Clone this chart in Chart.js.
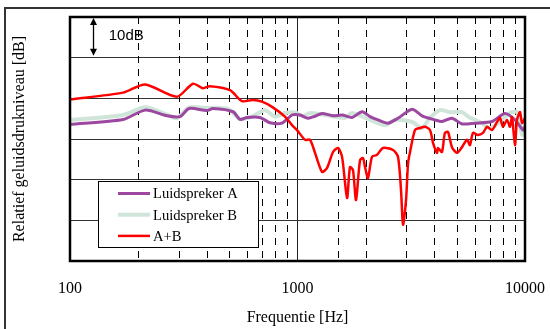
<!DOCTYPE html>
<html>
<head>
<meta charset="utf-8">
<script src="https://cdn.jsdelivr.net/npm/chart.js@4.4.0/dist/chart.umd.min.js"></script>
<style>
  html, body { margin: 0; padding: 0; background: #fff; }
  canvas { display: block; }
</style>
</head>
<body>
<canvas id="response" width="550" height="329"></canvas>
<script>
// Frequency response data, dB relative
const freqA = [100, 171, 214, 267, 304, 334, 400, 425, 521, 559, 600, 684, 757, 855, 946, 1026, 1112, 1194, 1282, 1433, 1570, 1736, 1922, 2083, 2258, 2500, 2766, 3188, 3526, 4018, 4315, 4775, 5285, 6026, 7161, 8166, 9036, 9804, 10000];
const levelA = [33.6, 34.8, 37.1, 35.7, 35.5, 37.5, 37.0, 37.5, 36.7, 34.8, 35.3, 35.3, 34.0, 33.9, 35.9, 35.9, 35.1, 35.6, 36.3, 35.7, 35.9, 35.3, 36.7, 35.5, 34.7, 33.9, 35.1, 37.3, 35.7, 34.7, 34.3, 35.1, 33.7, 33.9, 34.3, 36.3, 34.7, 32.2, 33.0];

const freqB = [100, 171, 214, 267, 295, 334, 392, 495, 559, 631, 720, 796, 881, 975, 1057, 1135, 1321, 1617, 1736, 2083, 2425, 2685, 3188, 3526, 3822, 4227, 4677, 5285, 5730, 6339, 7014, 7764, 8590, 9225, 9707, 10000];
const levelB = [34.7, 35.9, 37.8, 36.0, 35.1, 37.8, 37.6, 37.4, 34.9, 35.5, 37.1, 35.5, 36.4, 36.5, 35.6, 36.4, 35.9, 35.2, 36.4, 34.7, 33.4, 34.7, 34.2, 32.7, 35.2, 37.1, 36.6, 36.6, 35.2, 34.2, 32.7, 34.2, 36.4, 36.6, 31.0, 33.4];

const freqAB = [100, 171, 214, 295, 347, 384, 412, 505, 570, 637, 698, 773, 881, 946, 995, 1079, 1135, 1194, 1282, 1349, 1433, 1507, 1570, 1651, 1701, 1753, 1808, 1883, 1941, 1981, 2041, 2125, 2235, 2376, 2630, 2766, 2851, 2910, 3000, 3062, 3124, 3285, 3455, 3634, 3822, 3945, 4102, 4147, 4315, 4446, 4590, 4775, 5024, 5285, 5561, 5730, 5906, 6209, 6533, 6808, 7161, 7535, 7764, 8000, 8334, 8590, 8769, 9036, 9225, 9509, 9707, 10000];
const levelAB = [39.7, 41.4, 43.4, 40.4, 43.6, 42.5, 43.0, 42.0, 39.3, 39.6, 39.2, 37.9, 35.5, 33.4, 32.2, 29.8, 29.8, 26.6, 21.9, 22.9, 26.8, 27.8, 25.6, 15.5, 23.1, 22.4, 15.0, 24.8, 25.3, 23.1, 20.4, 25.6, 26.1, 27.8, 27.3, 25.6, 17.5, 8.9, 15.0, 24.1, 26.8, 32.2, 32.7, 33.0, 32.2, 29.0, 26.6, 27.8, 26.8, 31.5, 31.7, 28.0, 26.6, 28.0, 29.8, 28.5, 31.5, 31.0, 31.5, 33.0, 32.2, 34.2, 35.2, 33.0, 34.7, 33.0, 35.4, 28.5, 34.7, 36.6, 33.9, 35.2];

const seriesNames = ['Luidspreker A', 'Luidspreker B', 'A+B'];
const xLabels = [100, 1000, 10000];

const toPoints = (xs, ys) => xs.map((x, i) => ({ x: x, y: ys[i] }));

const SERIF = '"Liberation Serif", "Times New Roman", serif';

// outer frame, dashed minor gridlines, plot border, 10dB marker, legend
const decorations = {
    id: 'decorations',
    beforeDraw(chart) {
        const c = chart.ctx;
        c.save();
        c.strokeStyle = '#333';
        c.lineWidth = 2;
        c.strokeRect(5, 8, 600, 400);
        c.restore();
    },
    beforeDatasetsDraw(chart) {
        const c = chart.ctx;
        const area = chart.chartArea;
        const xs = chart.scales.x;
        c.save();
        c.strokeStyle = '#000';
        c.lineWidth = 1;
        c.setLineDash([7, 6]);
        xs.ticks.forEach(t => {
            const v = t.value;
            const p = Math.log10(v);
            if (Math.abs(p - Math.round(p)) < 1e-6) return;
            const px = Math.round(xs.getPixelForValue(v)) + 0.5;
            c.beginPath();
            c.moveTo(px, area.top);
            c.lineTo(px, area.bottom);
            c.stroke();
        });
        c.restore();
    },
    afterDraw(chart) {
        const c = chart.ctx;
        const area = chart.chartArea;
        const xs = chart.scales.x;
        const ys = chart.scales.y;

        // plot border
        c.save();
        c.strokeStyle = '#000';
        c.lineWidth = 2.5;
        c.strokeRect(area.left, area.top, area.right - area.left, area.bottom - area.top);

        // 10 dB scale marker
        const ax = Math.round(xs.getPixelForValue(126)) + 0.5;
        const y1 = ys.getPixelForValue(60) + 1;
        const y2 = ys.getPixelForValue(50) - 2;
        c.lineWidth = 1.3;
        c.beginPath();
        c.moveTo(ax, y1 + 3);
        c.lineTo(ax, y2 - 3);
        c.stroke();
        c.fillStyle = '#000';
        c.beginPath();
        c.moveTo(ax, y1); c.lineTo(ax - 3.5, y1 + 7); c.lineTo(ax + 3.5, y1 + 7); c.closePath();
        c.fill();
        c.beginPath();
        c.moveTo(ax, y2); c.lineTo(ax - 3.5, y2 - 7); c.lineTo(ax + 3.5, y2 - 7); c.closePath();
        c.fill();
        c.font = '15px "Liberation Sans", Arial, sans-serif';
        c.textBaseline = 'middle';
        c.textAlign = 'left';
        c.fillText('10dB', xs.getPixelForValue(148), ys.getPixelForValue(55) - 1);

        // legend box
        const bx = area.left + 28, by = area.top + 164, bw = 160, bh = 66;
        c.fillStyle = '#fff';
        c.fillRect(bx, by, bw, bh);
        c.strokeStyle = '#000';
        c.lineWidth = 1;
        c.strokeRect(bx + 0.5, by + 0.5, bw, bh);
        c.font = '14.6px ' + SERIF;
        chart.data.datasets.forEach((ds, i) => {
            const ly = by + 12.5 + i * 21.2;
            c.strokeStyle = ds.borderColor;
            c.lineWidth = ds.borderWidth;
            c.beginPath();
            c.moveTo(bx + 20, ly);
            c.lineTo(bx + 52, ly);
            c.stroke();
            c.fillStyle = '#000';
            c.fillText(ds.label, bx + 55, ly + 1);
        });
        c.restore();
    }
};

const ctx = document.getElementById('response').getContext('2d');
new Chart(ctx, {
    type: 'line',
    data: {
        datasets: [{
            label: seriesNames[0],
            data: toPoints(freqA, levelA),
            borderColor: '#9c48a0',
            borderWidth: 3,
            order: 1
        }, {
            label: seriesNames[1],
            data: toPoints(freqB, levelB),
            borderColor: '#cfe5d9',
            borderWidth: 4,
            order: 2
        }, {
            label: seriesNames[2],
            data: toPoints(freqAB, levelAB),
            borderColor: '#ff0000',
            borderWidth: 2.5,
            order: 0
        }]
    },
    options: {
        responsive: false,
        animation: false,
        events: [],
        elements: {
            point: { radius: 0 },
            line: { tension: 0.25, fill: false }
        },
        layout: { padding: { left: 0, top: 17, right: 25, bottom: 0 } },
        plugins: {
            legend: { display: false },
            tooltip: { enabled: false }
        },
        scales: {
            x: {
                type: 'logarithmic',
                min: 100,
                max: 10000,
                afterFit: s => { s.height = 68; s.paddingLeft = 0; s.paddingRight = 0; },
                border: { display: false },
                grid: {
                    drawTicks: false,
                    color: c => (c.tick && c.tick.value === 1000) ? '#222' : 'rgba(0,0,0,0)',
                    lineWidth: 1
                },
                ticks: {
                    autoSkip: false,
                    maxRotation: 0,
                    padding: 18,
                    color: '#000',
                    font: { family: SERIF, size: 16 },
                    callback: v => xLabels.includes(v) ? String(v) : ''
                },
                title: {
                    display: true,
                    text: 'Frequentie [Hz]',
                    color: '#000',
                    font: { family: SERIF, size: 16 },
                    padding: { top: 0, bottom: 2 }
                }
            },
            y: {
                min: 0,
                max: 60,
                afterFit: s => { s.width = 70; },
                border: { display: false },
                grid: { drawTicks: false, color: '#333', lineWidth: 1 },
                ticks: { display: false, stepSize: 10 },
                title: {
                    display: true,
                    text: 'Relatief geluidsdrukniveau [dB]',
                    color: '#000',
                    font: { family: SERIF, size: 16 },
                    padding: { top: 10, bottom: 0 }
                }
            }
        }
    },
    plugins: [decorations]
});
</script>
</body>
</html>
